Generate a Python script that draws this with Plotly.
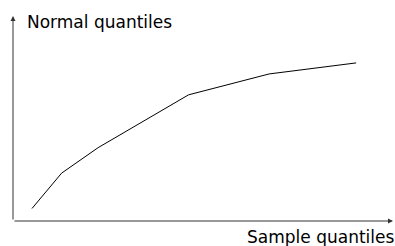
import plotly.graph_objects as go

sample_q = [0.5, 1.28, 2.24, 4.62, 6.74, 9.03]
normal_q = [0.33, 1.26, 1.93, 3.32, 3.87, 4.16]
x_label = "Sample quantiles"
y_label = "Normal quantiles"

W, H = 395, 246
ml, mr, mt, mb = 13, 2, 16, 25
pw, ph = W - ml - mr, H - mt - mb

fig = go.Figure()
fig.add_trace(go.Scatter(x=sample_q, y=normal_q, mode="lines",
                         line=dict(color="black", width=1), hoverinfo="skip"))

fig.update_layout(
    width=W, height=H,
    margin=dict(l=ml, r=mr, t=mt, b=mb, pad=0),
    paper_bgcolor="white", plot_bgcolor="white",
    showlegend=False,
    font=dict(family="DejaVu Sans", size=17, color="black"),
    xaxis=dict(range=[0, 10], visible=False, fixedrange=True),
    yaxis=dict(range=[0, 10 * ph / pw], visible=False, fixedrange=True),
)

axis_col = "#333333"
# x axis arrow
fig.add_annotation(xref="paper", yref="paper", x=1, y=0, ax=-pw, ay=0,
                   axref="pixel", ayref="pixel", text="", showarrow=True,
                   arrowhead=2, arrowsize=1, arrowwidth=1, arrowcolor=axis_col)
# y axis arrow
fig.add_annotation(xref="paper", yref="paper", x=0, y=1, ax=0, ay=ph,
                   axref="pixel", ayref="pixel", text="", showarrow=True,
                   arrowhead=2, arrowsize=1, arrowwidth=1, arrowcolor=axis_col)

fig.add_annotation(xref="paper", yref="paper", x=0, y=1, xanchor="left", yanchor="middle",
                   xshift=12, yshift=-5.5, text=y_label, showarrow=False,
                   font=dict(size=17))
fig.add_annotation(xref="paper", yref="paper", x=1, y=0, xanchor="right", yanchor="middle",
                   xshift=3, yshift=-15.5, text=x_label, showarrow=False,
                   font=dict(size=17))

fig.write_html("out.html", config={"displayModeBar": False},
               post_script="document.body.style.margin='0';document.body.style.overflow='hidden';")
